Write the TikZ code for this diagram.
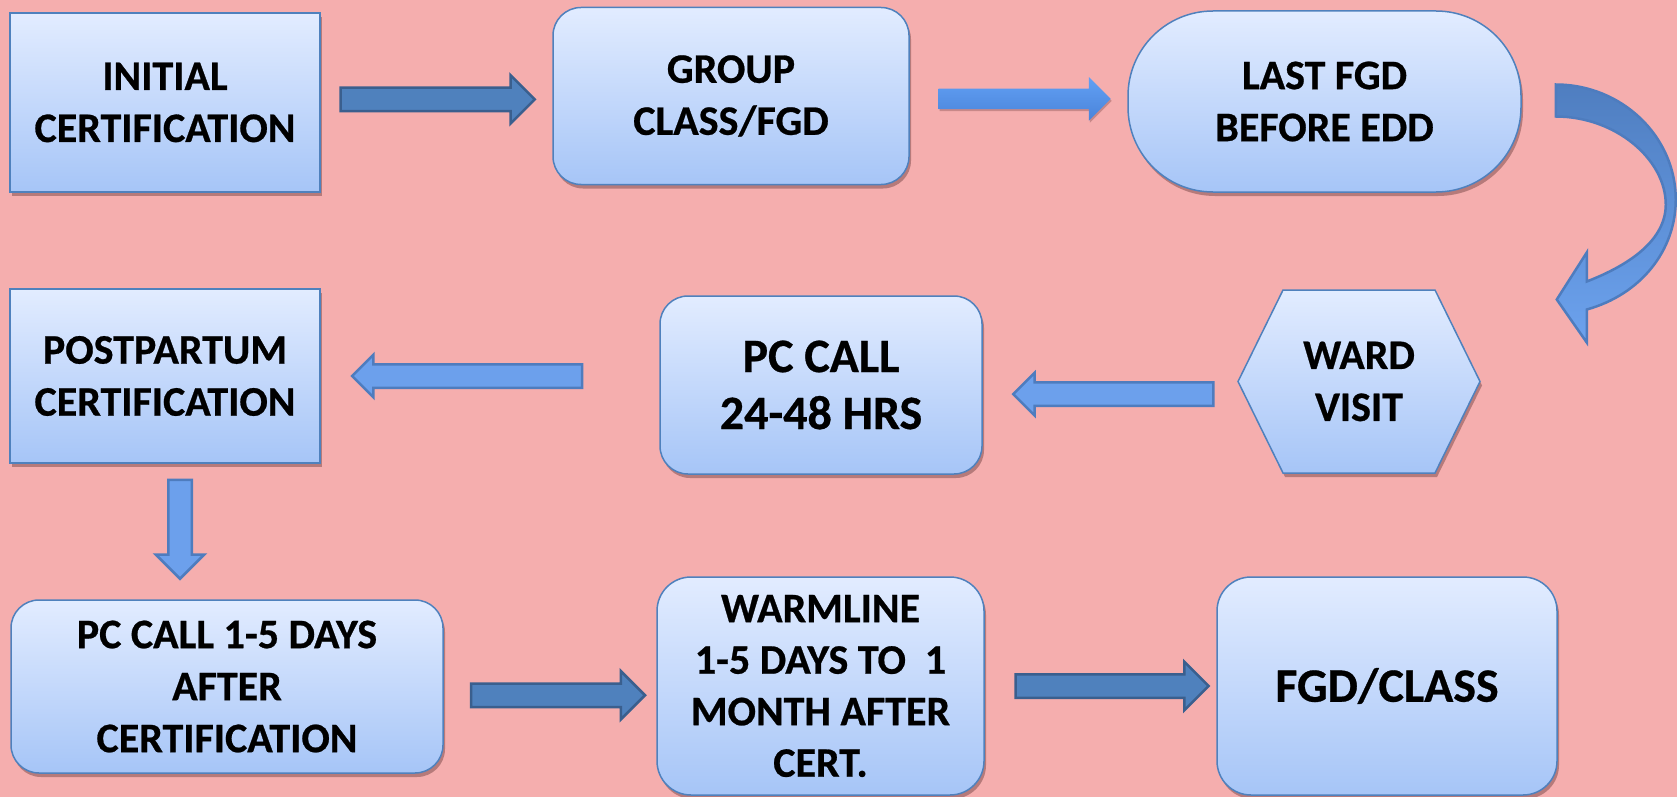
\documentclass[tikz,border=0pt]{standalone}
\usepackage{fontspec}
\setmainfont{Carlito}[FakeBold=0.6]
\usetikzlibrary{shapes.arrows,shadows,calc}

\definecolor{bgpink}{HTML}{F5AEAE}
\definecolor{boxtop}{HTML}{E2ECFF}
\definecolor{boxbot}{HTML}{A6C5F7}
\definecolor{boxline}{HTML}{4F81BD}
\definecolor{darkfill}{HTML}{4F81BD}
\definecolor{darkline}{HTML}{3A5F8E}
\definecolor{lightfill}{HTML}{6CA0EC}
\definecolor{lightline}{HTML}{4E7CBE}
\definecolor{gradtop}{HTML}{62A0F4}
\definecolor{gradbot}{HTML}{4A84DA}
\definecolor{curvetop}{HTML}{4F7EC0}
\definecolor{curvebot}{HTML}{6CA2EE}
\definecolor{shadowc}{HTML}{9C6464}

\begin{document}
\begin{tikzpicture}[
  x=1pt, y=-1pt,
  txt/.style={align=center, inner sep=0pt, text=black,
    font=\fontsize{42}{52}\selectfont\bfseries},
  bigtxt/.style={font=\fontsize{48}{57}\selectfont\bfseries},
  box/.style={txt, draw=boxline, line width=1.5pt, top color=boxtop, bottom color=boxbot,
    drop shadow={shadow xshift=2pt, shadow yshift=-4pt, fill=shadowc, opacity=.7}},
  rbox/.style={box, rounded corners=28pt},
  barrow/.style={single arrow, inner sep=10.5pt, single arrow head indent=0pt, line width=2.5pt},
  darr/.style={barrow, fill=darkfill, draw=darkline, single arrow head extend=12.5pt},
  larr/.style={barrow, fill=lightfill, draw=lightline, single arrow head extend=9.5pt},
  garr/.style={barrow, draw=none, inner sep=9pt, top color=gradtop, bottom color=gradbot,
    single arrow head extend=11.5pt,
    drop shadow={shadow xshift=1pt, shadow yshift=-2pt, fill=shadowc, opacity=.5}},
  curvearr/.style={draw=lightline, line width=2.5pt, top color=curvetop, bottom color=curvebot}
]
\useasboundingbox (0,0) rectangle (1677,797);
\fill[bgpink] (0,0) rectangle (1677,797);

% top row
\node[box, minimum width=310pt, minimum height=179pt] (init) at (165,102.5) {INITIAL\\CERTIFICATION};
\node[rbox, minimum width=356pt, minimum height=177pt] (grp) at (731,96) {GROUP\\CLASS/FGD};
\node[box, rounded corners=85pt, minimum width=393pt, minimum height=181pt] (last) at (1324.5,101.5) {LAST FGD\\BEFORE EDD};

% middle row
\node[box, minimum width=310pt, minimum height=174pt] (post) at (165,376) {POSTPARTUM\\CERTIFICATION};
\node[rbox, bigtxt, minimum width=322pt, minimum height=178pt] (pc) at (821,385) {PC CALL\\24-48 HRS};
\coordinate (wardc) at (1359,381.5);
\draw[box] ($(wardc)+(-121,0)$) -- ($(wardc)+(-76,-91.5)$) -- ($(wardc)+(76,-91.5)$)
  -- ($(wardc)+(121,0)$) -- ($(wardc)+(76,91.5)$) -- ($(wardc)+(-76,91.5)$) -- cycle;
\node[txt, minimum width=242pt, minimum height=183pt] (ward) at (wardc) {WARD\\VISIT};

% bottom row
\node[rbox, minimum width=432pt, minimum height=173pt] (pcdays) at (227,686.5) {PC CALL 1-5 DAYS\\AFTER\\CERTIFICATION};
\node[rbox, rounded corners=34pt, font=\fontsize{42}{51.5}\selectfont\bfseries,
  minimum width=327pt, minimum height=218pt] (warm) at (820.5,686) {WARMLINE\\1-5 DAYS TO~~1\\MONTH AFTER\\CERT.};
\node[rbox, rounded corners=34pt, bigtxt, minimum width=340pt, minimum height=218pt] (fgd) at (1387,686) {FGD/CLASS};

% arrows
\path (init.east) -- (grp.west) node[darr, pos=0.48, minimum height=194pt] {};
\path (grp.east) -- (last.west) node[garr, pos=0.505, minimum height=172pt] {};
\begin{scope}[shift={(last.east)}]
\draw[curvearr] (34,-17) .. controls (100,-17) and (154,35) .. (154,98)
  .. controls (154,149) and (119,193) .. (65,208)
  -- (65,241) -- (35,198) -- (65,151) -- (65,180)
  .. controls (109,163) and (144,138) .. (144,103)
  .. controls (144,58) and (94,15) .. (34,15) -- cycle;
\end{scope}
\path (ward.west) -- (pc.east) node[larr, pos=0.465, yshift=-11pt, minimum height=200pt, shape border rotate=180] {};
\path (pc.west |- post.east) -- (post.east) node[larr, pos=0.55, minimum height=230pt, shape border rotate=180] {};
\path (post.south) -- (post.south |- pcdays.north) node[larr, pos=0.44, xshift=15pt, minimum height=99pt,
  single arrow head extend=12.5pt, shape border rotate=270] {};
\path (pcdays.east) -- (warm.west) node[darr, pos=0.51, yshift=-9pt, minimum height=174pt] {};
\path (warm.east) -- (fgd.west) node[darr, pos=0.525, minimum height=193pt] {};
\end{tikzpicture}
\end{document}
